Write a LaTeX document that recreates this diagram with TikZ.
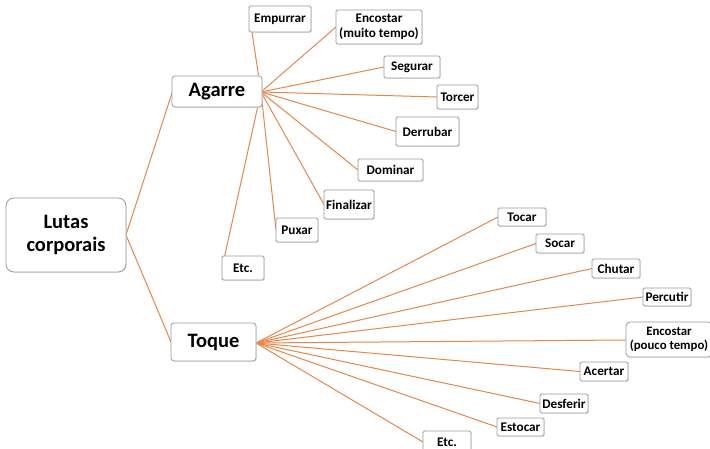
\documentclass[tikz,border=0pt]{standalone}
\usepackage{fontspec}
\setmainfont{Carlito}
\usetikzlibrary{shadows}
\definecolor{lnorange}{HTML}{E8864A}
\definecolor{bxgray}{HTML}{9A9A9A}
\tikzset{
  leaf/.style={draw=bxgray, line width=0.8pt, fill=white, rounded corners=1.5pt,
    inner sep=0pt, font=\fontsize{13.2}{14.5}\selectfont\bfseries, align=center,
    drop shadow={shadow xshift=0.8pt, shadow yshift=-0.8pt, fill=black!18}},
  hub/.style={leaf, rounded corners=3pt, font=\fontsize{20.5}{24}\selectfont\bfseries},
  rootbox/.style={leaf, rounded corners=8pt, font=\fontsize{20.5}{23}\selectfont\bfseries},
  conn/.style={draw=lnorange, line width=1pt},
}
\begin{document}
\begin{tikzpicture}[x=1pt,y=-1pt]
\useasboundingbox (0,0) rectangle (710,449);
% connectors first (beneath boxes)
\coordinate (ah) at (261,92);
\coordinate (th) at (256,343);
\coordinate (le) at (126,235);
\coordinate (aw) at (172,93);
\coordinate (tw) at (171,342);
\draw[conn] (aw) -- (le) -- (tw);
\foreach \p in {(250,19),(336,27),(384,67),(437,97),(396,131.5),(358,170),(324,204.5),(276,230),(222,268)}
  \draw[conn] (ah) -- \p;
\foreach \p in {(498,217),(536,243.5),(592,268.5),(643,297),(626,340),(580,371.5),(540,403.5),(497,427),(423,442)}
  \draw[conn] (th) -- \p;
% root and hubs
\node[rootbox, minimum width=120pt, minimum height=74pt] (lutas) at (66,235) {Lutas\\corporais};
\node[hub, minimum width=90pt, minimum height=31pt] (agarre) at (217,91.5) {Agarre};
\node[hub, minimum width=85pt, minimum height=38pt] (toque) at (213.5,342) {Toque};
% Agarre children
\node[leaf, minimum width=62pt, minimum height=26pt] (empurrar) at (280,19) {Empurrar};
\node[leaf, minimum width=86pt, minimum height=34pt] (encostarA) at (379,27) {Encostar\\(muito tempo)};
\node[leaf, minimum width=56pt, minimum height=22pt] (segurar) at (412,67) {Segurar};
\node[leaf, minimum width=41pt, minimum height=24pt] (torcer) at (457.5,97) {Torcer};
\node[leaf, minimum width=63pt, minimum height=29pt] (derrubar) at (427.5,131.5) {Derrubar};
\node[leaf, minimum width=65pt, minimum height=22pt] (dominar) at (390.5,170) {Dominar};
\node[leaf, minimum width=50pt, minimum height=29pt] (finalizar) at (349,204.5) {Finalizar};
\node[leaf, minimum width=42pt, minimum height=24pt] (puxar) at (297,230) {Puxar};
\node[leaf, minimum width=42pt, minimum height=24pt] (etcA) at (243,268) {Etc.};
% Toque children
\node[leaf, minimum width=48pt, minimum height=18pt] (tocar) at (522,217) {Tocar};
\node[leaf, minimum width=48pt, minimum height=19pt] (socar) at (560,243.5) {Socar};
\node[leaf, minimum width=48pt, minimum height=19pt] (chutar) at (616,268.5) {Chutar};
\node[leaf, minimum width=48pt, minimum height=18pt] (percutir) at (667,297) {Percutir};
\node[leaf, rounded corners=4pt, minimum width=86pt, minimum height=35pt, font=\fontsize{12.8}{14.5}\selectfont\bfseries] (encostarT) at (669,339.5) {Encostar\\(pouco tempo)};
\node[leaf, minimum width=48pt, minimum height=19pt] (acertar) at (604,371.5) {Acertar};
\node[leaf, minimum width=48pt, minimum height=19pt] (desferir) at (564,403.5) {Desferir};
\node[leaf, minimum width=47pt, minimum height=18pt] (estocar) at (520.5,427) {Estocar};
\node[leaf, minimum width=48pt, minimum height=22pt] (etcT) at (447,442) {Etc.};
\end{tikzpicture}
\end{document}
